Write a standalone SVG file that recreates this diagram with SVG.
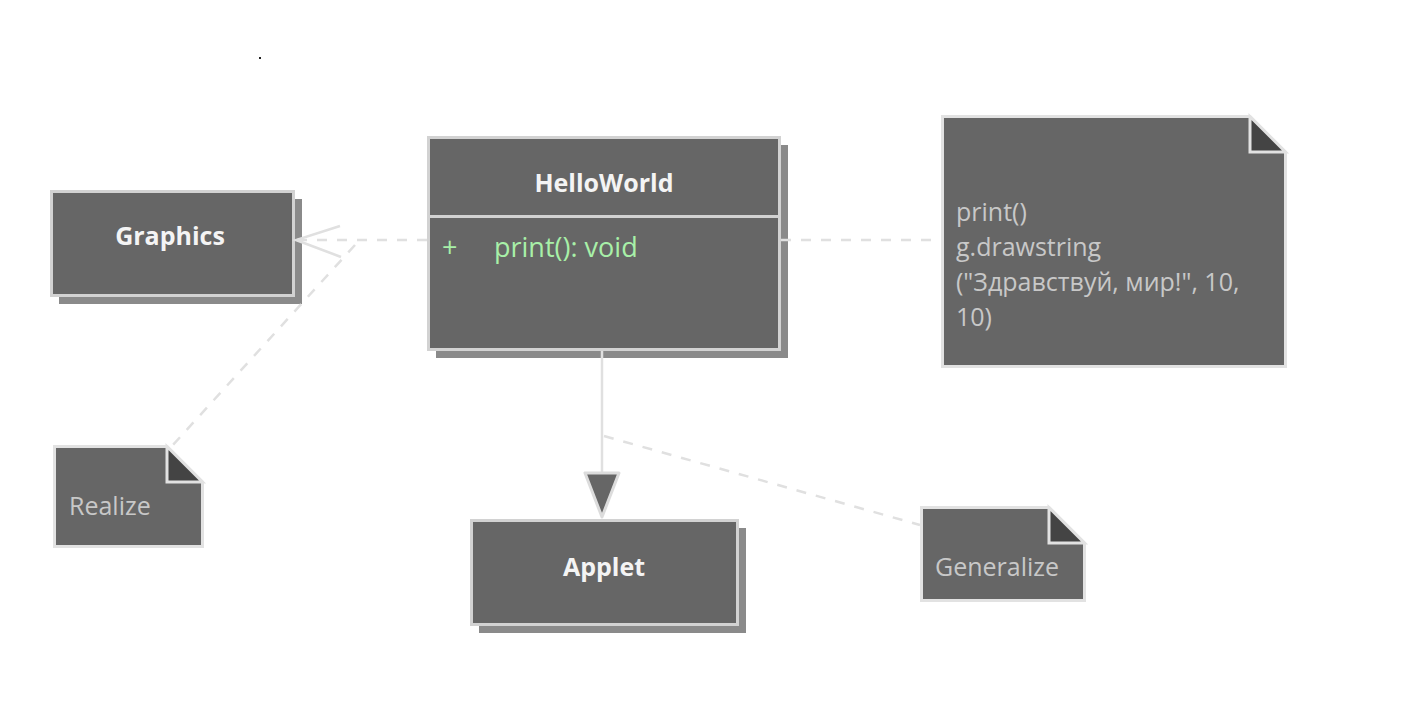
<svg xmlns="http://www.w3.org/2000/svg" width="1415" height="709" viewBox="0 0 1415 709">
<style>
.bg{fill:#ffffff}
.shadow{fill:#8a8a8a}
.cls{fill:#666666;stroke:#d2d2d2;stroke-width:3}
.note{fill:#666666;stroke:#e2e2e2;stroke-width:3}
.fold{fill:#444444;stroke:#e2e2e2;stroke-width:3;stroke-linejoin:miter}
.title{font-family:"Open Sans","Noto Sans",sans-serif;font-weight:700;font-size:25px;fill:#f4f4f4;text-anchor:middle}
.meth{font-family:"Open Sans","Noto Sans",sans-serif;font-size:27px;fill:#a8f0a8}
.ntxt{font-family:"Open Sans","Noto Sans",sans-serif;font-size:25px;fill:#c8c8c8}
.dash{fill:none;stroke:#e0e0e0;stroke-width:2.5;stroke-dasharray:10 10}
.solid{fill:none;stroke:#e0e0e0;stroke-width:2.5}
</style>
<rect class="bg" x="0" y="0" width="1415" height="709"/>
<rect x="259" y="57" width="2" height="2" fill="#222"/>

<g id="graphics">
  <rect class="shadow" x="59" y="199" width="243" height="105"/>
  <rect class="cls" x="51.5" y="191.5" width="242" height="104"/>
  <text class="title" x="170" y="245">Graphics</text>
</g>

<g id="helloworld">
  <rect class="shadow" x="436" y="145" width="352" height="213"/>
  <rect class="cls" x="428.5" y="137.5" width="351" height="212"/>
  <line x1="428.5" y1="216.5" x2="779.5" y2="216.5" stroke="#d2d2d2" stroke-width="3"/>
  <text class="title" x="604" y="192">HelloWorld</text>
  <text class="meth" x="442" y="257">+</text>
  <text class="meth" x="494" y="257">print(): void</text>
</g>

<g id="applet">
  <rect class="shadow" x="479" y="528" width="267" height="105"/>
  <rect class="cls" x="471.5" y="520.5" width="266" height="104"/>
  <text class="title" x="604" y="576">Applet</text>
</g>

<g id="note-print">
  <path class="note" d="M942.5,116.5 H1250 L1285.5,152 V366.5 H942.5 Z"/>
  <path class="fold" d="M1250,116.5 V152 H1285.5 Z"/>
  <text class="ntxt" x="956" y="221">print()</text>
  <text class="ntxt" x="956" y="256">g.drawstring</text>
  <text class="ntxt" x="956" y="291">("Здравствуй, мир!", 10,</text>
  <text class="ntxt" x="956" y="326">10)</text>
</g>

<g id="note-realize">
  <path class="note" d="M54.5,446.5 H167 L202.5,482 V546.5 H54.5 Z"/>
  <path class="fold" d="M167,446.5 V482 H202.5 Z"/>
  <text class="ntxt" x="69" y="515">Realize</text>
</g>

<g id="note-generalize">
  <path class="note" d="M921.5,507.5 H1049 L1084.5,543 V600.5 H921.5 Z"/>
  <path class="fold" d="M1049,507.5 V543 H1084.5 Z"/>
  <text class="ntxt" x="935" y="576">Generalize</text>
</g>

<g id="connectors">
  <line class="dash" x1="427" y1="240" x2="296" y2="240"/>
  <polyline class="solid" points="340,226 296,240 341,257"/>
  <line class="dash" x1="355" y1="245" x2="172" y2="446"/>
  <line class="dash" x1="781" y1="240" x2="941" y2="240"/>
  <line class="solid" x1="602" y1="351" x2="602" y2="473"/>
  <polygon points="585,473 619,473 602,517" fill="#666666" stroke="#dcdcdc" stroke-width="3" stroke-linejoin="round"/>
  <line class="dash" x1="604" y1="436" x2="920" y2="525"/>
</g>
</svg>
